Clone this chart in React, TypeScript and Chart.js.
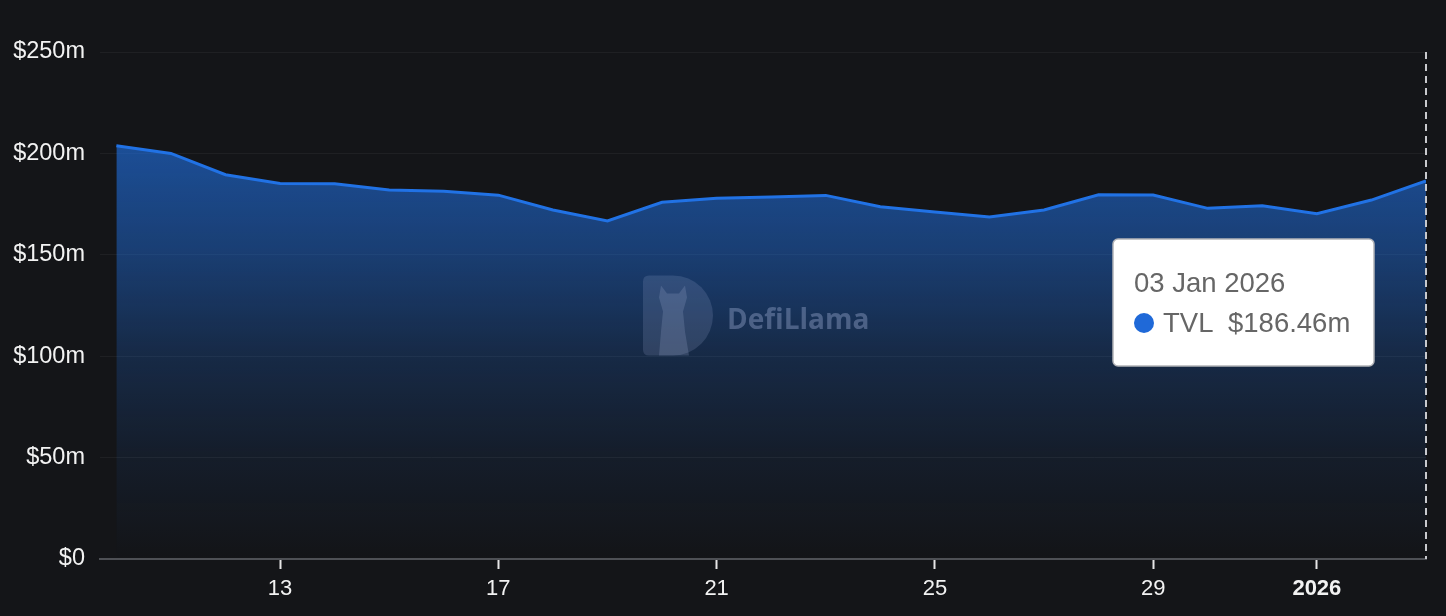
import React, { useEffect, useRef } from 'react';
import { Chart, registerables } from 'chart.js';

Chart.register(...registerables);

// ---- data ----
const dates = [
  '10 Dec 2025', '11 Dec 2025', '12 Dec 2025', '13 Dec 2025', '14 Dec 2025',
  '15 Dec 2025', '16 Dec 2025', '17 Dec 2025', '18 Dec 2025', '19 Dec 2025',
  '20 Dec 2025', '21 Dec 2025', '22 Dec 2025', '23 Dec 2025', '24 Dec 2025',
  '25 Dec 2025', '26 Dec 2025', '27 Dec 2025', '28 Dec 2025', '29 Dec 2025',
  '30 Dec 2025', '31 Dec 2025', '01 Jan 2026', '02 Jan 2026', '03 Jan 2026',
];
const tvl = [
  203.8, 200.0, 189.5, 185.2, 185.0,
  182.0, 181.3, 179.4, 172.1, 166.7,
  175.9, 177.9, 178.5, 179.3, 173.7,
  171.1, 168.6, 172.1, 179.6, 179.5,
  172.9, 174.2, 170.3, 177.0, 186.46,
];
const xTickIndex = [3, 7, 11, 15, 19, 22];
const xTickLabels = ['13', '17', '21', '25', '29', '2026'];
const yTickValues = [0, 50, 100, 150, 200, 250];
const seriesName = 'TVL';

const FONT = '"Liberation Sans", Arial, Helvetica, sans-serif';
const BG = '#141518';
const LINE = '#2172E5';

const fmtMoney = (v: number) => (v === 0 ? '$0' : `$${v}m`);

export default function App() {
  const ref = useRef<HTMLCanvasElement>(null);

  useEffect(() => {
    const canvas = ref.current!;
    const lastIdx = tvl.length - 1;

    const watermark = {
      id: 'watermark',
      afterDatasetsDraw(chart: any) {
        const { ctx, chartArea } = chart;
        const cx = (chartArea.left + chartArea.right) / 2;
        const cy = (chartArea.top + chartArea.bottom) / 2;
        ctx.save();
        // D-shaped logo
        const lx = cx - 120;
        const ly = cy - 30;
        const r = 40;
        ctx.beginPath();
        ctx.moveTo(lx + 6, ly);
        ctx.lineTo(lx + 30, ly);
        ctx.arc(lx + 30, ly + r, r, -Math.PI / 2, Math.PI / 2);
        ctx.lineTo(lx + 6, ly + 2 * r);
        ctx.quadraticCurveTo(lx, ly + 2 * r, lx, ly + 2 * r - 6);
        ctx.lineTo(lx, ly + 6);
        ctx.quadraticCurveTo(lx, ly, lx + 6, ly);
        ctx.closePath();
        ctx.fillStyle = 'rgba(150,165,205,0.2)';
        ctx.fill();
        // llama silhouette
        ctx.beginPath();
        ctx.moveTo(lx + 16, ly + 80);
        ctx.lineTo(lx + 18, ly + 56);
        ctx.lineTo(lx + 20, ly + 36);
        ctx.lineTo(lx + 16, ly + 22);
        ctx.lineTo(lx + 18, ly + 10);
        ctx.lineTo(lx + 24, ly + 18);
        ctx.lineTo(lx + 36, ly + 18);
        ctx.lineTo(lx + 42, ly + 10);
        ctx.lineTo(lx + 44, ly + 22);
        ctx.lineTo(lx + 40, ly + 36);
        ctx.lineTo(lx + 42, ly + 56);
        ctx.lineTo(lx + 46, ly + 80);
        ctx.closePath();
        ctx.fillStyle = 'rgba(160,175,210,0.22)';
        ctx.fill();
        // text
        ctx.font = `bold 28px "Open Sans", ${FONT}`;
        ctx.fillStyle = 'rgba(150,168,205,0.42)';
        ctx.textBaseline = 'alphabetic';
        ctx.textAlign = 'left';
        ctx.fillText('DefiLlama', cx - 36, cy + 23);
        ctx.restore();
      },
    };

    const cursor = {
      id: 'cursor',
      afterDatasetsDraw(chart: any) {
        const { ctx, chartArea } = chart;
        const px = chart.scales.x.getPixelForValue(lastIdx);
        ctx.save();
        ctx.strokeStyle = '#c8c9cd';
        ctx.lineWidth = 2;
        ctx.setLineDash([7, 5]);
        ctx.beginPath();
        ctx.moveTo(px, chartArea.top);
        ctx.lineTo(px, chartArea.bottom);
        ctx.stroke();
        ctx.restore();
      },
    };

    const tip = {
      id: 'tipbox',
      afterDraw(chart: any) {
        const { ctx, chartArea } = chart;
        const px = chart.scales.x.getPixelForValue(lastIdx);
        const w = 261;
        const h = 127;
        const bx = px - 52 - w;
        const by = chartArea.top + 187;
        ctx.save();
        ctx.beginPath();
        ctx.roundRect(bx, by, w, h, 5);
        ctx.fillStyle = '#ffffff';
        ctx.fill();
        ctx.lineWidth = 1.5;
        ctx.strokeStyle = '#b3b4b8';
        ctx.stroke();
        ctx.fillStyle = '#666666';
        ctx.font = `27.5px ${FONT}`;
        ctx.textBaseline = 'alphabetic';
        ctx.textAlign = 'left';
        ctx.fillText(dates[lastIdx], bx + 21, by + 53);
        ctx.beginPath();
        ctx.arc(bx + 31, by + 84, 10, 0, Math.PI * 2);
        ctx.fillStyle = '#1f69d8';
        ctx.fill();
        ctx.fillStyle = '#666666';
        ctx.fillText(seriesName, bx + 50, by + 93);
        ctx.fillText(`$${tvl[lastIdx].toFixed(2)}m`, bx + 115, by + 93);
        ctx.restore();
      },
    };

    const chart = new Chart(canvas, {
      type: 'line',
      data: {
        datasets: [
          {
            label: seriesName,
            data: tvl.map((y, i) => ({ x: i, y })),
            borderColor: LINE,
            borderWidth: 3,
            pointRadius: 0,
            tension: 0,
            fill: 'origin',
            backgroundColor: (c: any) => {
              const ch = c.chart;
              const area = ch.chartArea;
              if (!area) return 'rgba(33,114,229,0.4)';
              const top = ch.scales.y.getPixelForValue(Math.max(...tvl));
              const g = ch.ctx.createLinearGradient(0, top, 0, area.bottom);
              g.addColorStop(0, 'rgba(33,114,229,0.62)');
              g.addColorStop(0.25, 'rgba(33,114,229,0.45)');
              g.addColorStop(0.5, 'rgba(33,114,229,0.23)');
              g.addColorStop(0.75, 'rgba(33,114,229,0.09)');
              g.addColorStop(1, 'rgba(33,114,229,0)');
              return g;
            },
          },
        ],
      },
      options: {
        responsive: false,
        animation: false,
        events: [],
        layout: { padding: { top: 52, right: 20, left: 0, bottom: 0 } },
        plugins: {
          legend: { display: false },
          tooltip: { enabled: false },
        },
        scales: {
          x: {
            type: 'linear',
            min: -0.3,
            max: lastIdx,
            afterBuildTicks: (s: any) => {
              s.ticks = xTickIndex.map((v) => ({ value: v }));
            },
            afterFit: (s: any) => {
              s.height = 57;
            },
            ticks: {
              autoSkip: false,
              maxRotation: 0,
              padding: 7,
              color: '#f2f2f2',
              callback: (v: any) => {
                const k = xTickIndex.indexOf(Number(v));
                return k >= 0 ? xTickLabels[k] : '';
              },
              font: (c: any) => ({
                family: FONT,
                size: 22,
                weight: c.index === xTickIndex.length - 1 ? 'bold' : 'normal',
              }),
            },
            grid: {
              drawOnChartArea: false,
              drawTicks: true,
              tickLength: 10,
              tickColor: '#e6e6e6',
              tickWidth: 2,
              color: 'transparent',
            },
            border: { display: true, color: '#4e5055', width: 2 },
          },
          y: {
            min: 0,
            max: 250,
            afterBuildTicks: (s: any) => {
              s.ticks = yTickValues.map((v) => ({ value: v }));
            },
            afterFit: (s: any) => {
              s.width = 100;
            },
            ticks: {
              padding: 15,
              color: '#f2f2f2',
              font: { family: FONT, size: 23.5 },
              callback: (v: any) => fmtMoney(Number(v)),
            },
            grid: {
              color: 'rgba(255,255,255,0.05)',
              drawTicks: false,
              lineWidth: 1,
            },
            border: { display: false },
          },
        },
      },
      plugins: [watermark, cursor, tip],
    } as any);

    return () => chart.destroy();
  }, []);

  return (
    <div
      style={{
        position: 'fixed',
        left: 0,
        top: 0,
        width: 1446,
        height: 616,
        background: BG,
      }}
    >
      <canvas ref={ref} width={1446} height={616} style={{ display: 'block', width: 1446, height: 616 }} />
    </div>
  );
}
